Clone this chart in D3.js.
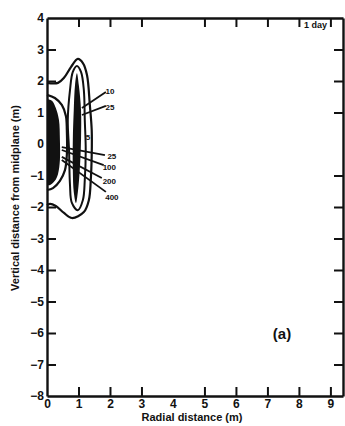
<!DOCTYPE html>
<html>
<head>
<meta charset="utf-8">
<script src="https://cdn.jsdelivr.net/npm/d3@7"></script>
<style>
  body { margin: 0; background: #fff; }
  svg text { font-family: "Liberation Sans", Arial, sans-serif; font-weight: bold; fill: #111; }
  .axis path, .axis line { stroke: #111; }
  .axis path { stroke-width: 2.4; }
  .axis line { stroke-width: 2; }
</style>
</head>
<body>
<div id="chart"></div>
<script>
// tick values
const radialTicks = [0, 1, 2, 3, 4, 5, 6, 7, 8, 9];
const verticalTicks = [4, 3, 2, 1, 0, -1, -2, -3, -4, -5, -6, -7, -8];

// contour lines, [radial m, vertical m]
const contour5 = [[0, 1.94], [0.35, 1.94], [0.54, 2.1], [0.76, 2.44], [0.98, 2.7], [1.14, 2.57],
  [1.27, 2.19], [1.36, 1.24], [1.42, 0.44], [1.42, -0.35], [1.39, -1.14], [1.33, -1.78],
  [1.17, -2.16], [0.79, -2.35], [0.54, -2.19], [0.28, -1.97], [0.1, -1.9], [0, -1.94]];
const contourLobe = [[0, 1.56], [0.25, 1.46], [0.47, 1.24], [0.6, 0.89], [0.63, 0.44], [0.63, -0.35],
  [0.57, -0.83], [0.41, -1.17], [0.19, -1.4], [0, -1.46]];
const contourSpike = [[0.95, 2.48], [1.08, 2.29], [1.17, 1.71], [1.2, 0.76], [1.23, -0.19], [1.2, -1.14],
  [1.14, -1.78], [0.98, -2.1], [0.79, -1.87], [0.73, -1.3], [0.7, -0.19], [0.66, 0.76],
  [0.73, 1.71], [0.82, 2.29]];

// dense (solid black) regions
const blobCore = [[0, 1.43], [0.16, 1.37], [0.28, 1.14], [0.38, 0.76], [0.41, 0.13], [0.41, -0.51],
  [0.35, -0.95], [0.25, -1.17], [0.1, -1.3], [0, -1.3]];
const spikeCore = [[0.95, 2.25], [1.01, 1.87], [1.08, 1.08], [1.08, 0.13], [1.04, -0.83], [0.98, -1.52],
  [0.92, -1.87], [0.85, -1.52], [0.82, -0.83], [0.82, 0.13], [0.85, 1.08], [0.89, 1.87]];

// contour labels with leader lines: text, label pos, leader from, leader to
const labelText = ["10", "25", "5", "25", "100", "200", "400"];
const labelPos = [[2.0, 1.68], [2.0, 1.17], [1.3, 0.22], [2.06, -0.38], [1.98, -0.73], [1.98, -1.17], [2.06, -1.68]];
const leaderFrom = [[1.11, 1.14], [1.11, 0.92], null, [0.47, -0.1], [0.47, -0.19], [0.47, -0.41], [0.47, -0.51]];
const leaderTo = [[1.87, 1.65], [1.87, 1.21], null, [1.84, -0.35], [1.8, -0.67], [1.74, -1.08], [1.87, -1.52]];

const W = 345, H = 426;
const margin = {top: 18, right: 2, bottom: 30, left: 47};

const svg = d3.select("#chart").append("svg")
  .attr("width", W)
  .attr("height", H);

const x = d3.scaleLinear().domain([0, 9.4]).range([margin.left, W - margin.right]);
const y = d3.scaleLinear().domain([-8, 4]).range([H - margin.bottom, margin.top]);

// axes, ticks pointing inward
svg.append("g")
  .attr("class", "axis")
  .attr("transform", `translate(0,${y(-8)})`)
  .call(d3.axisBottom(x).tickValues(radialTicks).tickSize(-9).tickSizeOuter(0).tickPadding(3))
  .call(g => g.selectAll("text").attr("font-size", 12));
svg.append("g")
  .attr("class", "axis")
  .attr("transform", `translate(${x(0)},0)`)
  .call(d3.axisLeft(y).tickValues(verticalTicks).tickSize(-9).tickSizeOuter(0).tickPadding(3))
  .call(g => g.selectAll("text").attr("font-size", 12));
svg.append("g")
  .attr("class", "axis")
  .attr("transform", `translate(0,${y(4)})`)
  .call(d3.axisTop(x).tickValues(radialTicks).tickSize(-9).tickSizeOuter(0).tickFormat(""));
svg.append("g")
  .attr("class", "axis")
  .attr("transform", `translate(${x(9.4)},0)`)
  .call(d3.axisRight(y).tickValues(verticalTicks).tickSize(-9).tickSizeOuter(0).tickFormat(""));

// hide ticks sitting on the frame corners
svg.selectAll(".axis .tick").filter(d => d === 0 || d === 4 || d === -8).select("line").remove();

const line = d3.line().x(d => x(d[0])).y(d => y(d[1])).curve(d3.curveCatmullRom);
const closed = d3.line().x(d => x(d[0])).y(d => y(d[1])).curve(d3.curveCatmullRomClosed);

const plot = svg.append("g");

plot.append("path").datum(blobCore)
  .attr("d", d => line(d) + "Z")
  .attr("fill", "#111");
plot.append("path").datum(spikeCore)
  .attr("d", closed)
  .attr("fill", "#111");

[contour5, contourLobe].forEach(c => {
  plot.append("path").datum(c)
    .attr("d", line)
    .attr("fill", "none")
    .attr("stroke", "#111")
    .attr("stroke-width", 2.2);
});
plot.append("path").datum(contourSpike)
  .attr("d", closed)
  .attr("fill", "none")
  .attr("stroke", "#111")
  .attr("stroke-width", 2);

// leaders and labels
labelText.forEach((t, i) => {
  if (leaderFrom[i]) {
    plot.append("line")
      .attr("x1", x(leaderFrom[i][0])).attr("y1", y(leaderFrom[i][1]))
      .attr("x2", x(leaderTo[i][0])).attr("y2", y(leaderTo[i][1]))
      .attr("stroke", "#111")
      .attr("stroke-width", 1.8);
  }
  plot.append("text")
    .attr("x", x(labelPos[i][0]))
    .attr("y", y(labelPos[i][1]))
    .attr("dy", "0.35em")
    .attr("text-anchor", "middle")
    .attr("font-size", 8)
    .text(t);
});

// annotations
svg.append("text")
  .attr("x", 304).attr("y", 28)
  .attr("font-size", 9)
  .text("1 day");
svg.append("text")
  .attr("x", 282).attr("y", y(-6.2))
  .attr("text-anchor", "middle")
  .attr("font-size", 15)
  .attr("font-weight", "normal")
  .text("(a)");

// axis titles
svg.append("text")
  .attr("x", 192)
  .attr("y", 421)
  .attr("text-anchor", "middle")
  .attr("font-size", 11)
  .text("Radial distance (m)");
svg.append("text")
  .attr("transform", `translate(19, 198) rotate(-90)`)
  .attr("text-anchor", "middle")
  .attr("font-size", 11)
  .text("Vertical distance from midplane (m)");
</script>
</body>
</html>
